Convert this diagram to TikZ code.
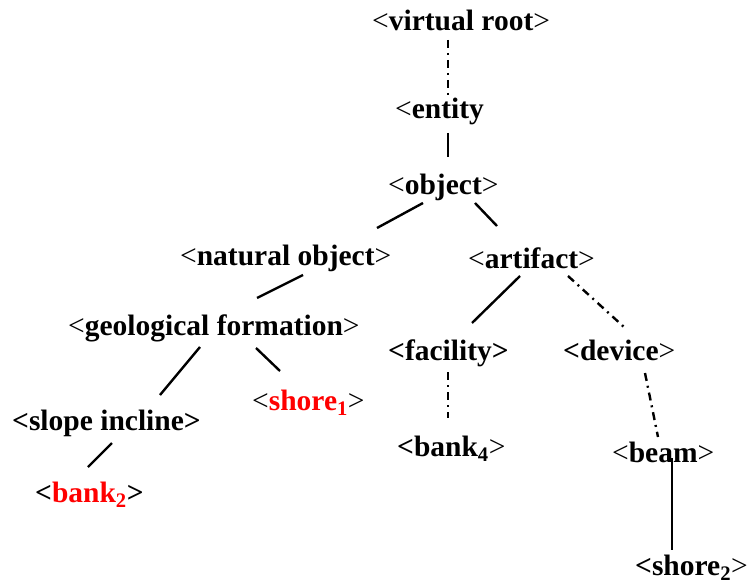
\documentclass[tikz,border=0pt]{standalone}
\usepackage{fontspec}
\setmainfont{Liberation Serif}
\usetikzlibrary{calc}
\definecolor{hl}{RGB}{255,0,0}
\newcommand\lb{{\mdseries<}}
\newcommand\rb{{\mdseries>}}
\newcommand\sub[1]{\textsubscript{#1}}
\begin{document}
\begin{tikzpicture}[x=1bp,y=-1bp,
  lbl/.style={anchor=base west,inner sep=0pt,font=\fontsize{29.5bp}{32bp}\selectfont\bfseries},
  solidedge/.style={line width=2.4bp},
  dotdash/.style={line width=2.4bp,dash pattern=on 8bp off 5bp on 2bp off 5bp}]
\useasboundingbox[fill=white] (0,0) rectangle (747,584);
\node[lbl] (vroot) at (372,31) {\lb virtual root\rb};
\node[lbl] (entity) at (395,119) {\lb entity};
\node[lbl] (object) at (388,195) {\lb object\rb};
\node[lbl] (natural) at (180,265) {\lb natural object\rb};
\node[lbl] (artifact) at (468,268) {\lb artifact\rb};
\node[lbl] (geo) at (68,335) {\lb geological formation\rb};
\node[lbl] (slope) at (12,430) {<slope incline>};
\node[lbl] (shore1) at (252,410) {\lb\textcolor{hl}{shore\sub{1}}\rb};
\node[lbl] (bank2) at (35,502) {<\textcolor{hl}{bank\sub{2}}>};
\node[lbl] (facility) at (388,360) {<facility>};
\node[lbl] (device) at (563,360) {<device\rb};
\node[lbl] (bank4) at (397,456) {<bank\sub{4}\rb};
\node[lbl] (beam) at (612,462) {\lb beam\rb};
\node[lbl] (shore2) at (635,575) {<shore\sub{2}\rb};
\draw[dotdash] ($(vroot.base west)+(76,9)$) -- ($(entity.base west)+(53,-19)$);
\draw[solidedge] ($(entity.base west)+(53,14)$) -- ($(object.base west)+(60,-38)$);
\draw[solidedge] ($(object.base west)+(35,8)$) -- ($(natural.base west)+(197,-37)$);
\draw[solidedge] ($(object.base west)+(87,8)$) -- ($(artifact.base west)+(29,-42)$);
\draw[solidedge] ($(natural.base west)+(123,10)$) -- ($(geo.base west)+(189,-37)$);
\draw[solidedge] ($(geo.base west)+(132,12)$) -- ($(slope.base west)+(148,-35)$);
\draw[solidedge] ($(geo.base west)+(188,13)$) -- ($(shore1.base west)+(28,-39)$);
\draw[solidedge] ($(slope.base west)+(100,13)$) -- ($(bank2.base west)+(53,-35)$);
\draw[solidedge] ($(artifact.base west)+(52,8)$) -- ($(facility.base west)+(84,-37)$);
\draw[dotdash] ($(artifact.base west)+(100,8)$) -- ($(device.base west)+(61,-33)$);
\draw[dotdash] ($(facility.base west)+(60,12)$) -- ($(bank4.base west)+(51,-38)$);
\draw[dotdash] ($(device.base west)+(82,13)$) -- ($(beam.base west)+(46,-25)$);
\draw[solidedge] ($(beam.base west)+(60,-4)$) -- ($(shore2.base west)+(37,-25)$);
\end{tikzpicture}
\end{document}
